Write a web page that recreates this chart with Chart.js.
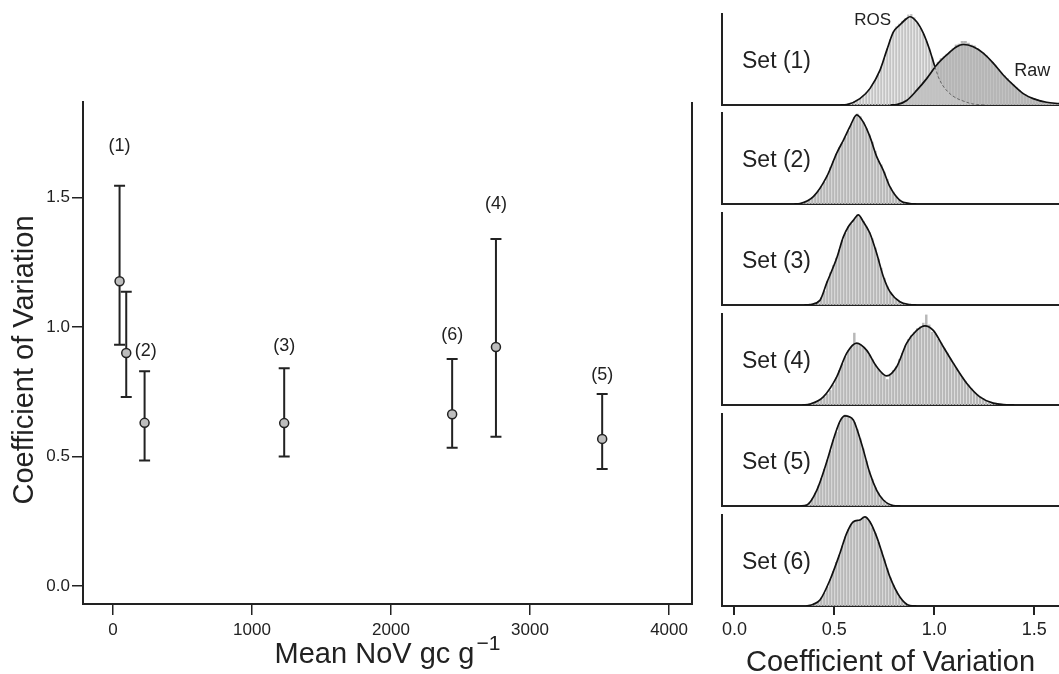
<!DOCTYPE html>
<html><head><meta charset="utf-8">
<script src="https://cdn.jsdelivr.net/npm/chart.js@4.4.1/dist/chart.umd.min.js"></script>
<style>
html,body{margin:0;padding:0;background:#fff;}
body{width:1059px;height:674px;position:relative;overflow:hidden;}
canvas{position:absolute;}
</style></head><body>
<script>
// ---------------- DATA ----------------
// Left panel: mean NoV vs coefficient of variation with 95% intervals
const meanNoV   = [48, 96, 228, 1232, 2440, 2755, 3519];
const cvPoint   = [1.177, 0.900, 0.630, 0.629, 0.663, 0.923, 0.568];
const cvLow     = [0.932, 0.730, 0.485, 0.500, 0.534, 0.576, 0.452];
const cvHigh    = [1.546, 1.137, 0.829, 0.841, 0.877, 1.341, 0.742];
const setTags   = ['(1)', '(2)', '(3)', '(6)', '(4)', '(5)'];
const tagNoV    = [48, 236, 1232, 2440, 2755, 3519];
const tagCV     = [1.699, 0.906, 0.925, 0.968, 1.476, 0.816];
const xTickVals = [0, 1000, 2000, 3000, 4000];
const yTickVals = [0.0, 0.5, 1.0, 1.5];

// Right panels: histograms (bin width 0.015) and density curves
const binWidth = 0.015;
const set1RosStart = 0.555;
const set1RosHist = [0,1,2,4,5,7,10,14,17,22,27,33,42,51,62,72,80,86,89,92,95,99,100,96,90,84,78,70,62,52,40,30,24,19,15,12,9,7,5,4,3,2,1,1,0];
const set1RawStart = 0.81;
const set1RawHist = [0,1,3,5,6,10,13,17,20,25,28,33,38,42,47,51,53,56,58,62,66,67,70,70,68,66,65,62,59,57,54,50,47,43,39,35,32,29,25,22,19,16,13,11,9,8,7,6,5,4,3,3,2,2,1];
const set2Start = 0.33;
const set2Hist = [0,1,3,4,7,10,14,19,24,31,40,47,55,62,67,73,80,88,95,99,96,90,83,76,68,58,47,43,35,27,18,13,8,5,3,1,0];
const set3Start = 0.375;
const set3Hist = [0,1,2,4,8,15,26,35,43,51,60,70,78,85,88,93,98,95,91,85,79,72,62,50,40,29,20,14,9,6,4,2,1,0];
const set4Start = 0.375;
const set4Hist = [1,2,3,5,6,9,12,16,22,30,38,45,53,60,64,79,67,66,63,60,55,50,44,39,35,32,28,34,38,42,50,57,65,72,76,80,84,86,90,99,88,80,78,72,68,62,57,51,46,40,35,30,26,22,18,14,11,9,7,5,3,2,2,1,1,0,0];
const set5Start = 0.36;
const set5Hist = [1,4,8,14,22,30,40,50,60,72,80,90,96,99,97,95,91,83,73,62,49,38,29,20,14,9,6,3,1,0];
const set6Start = 0.39;
const set6Hist = [1,3,5,9,14,21,29,38,48,56,66,76,84,90,93,94,95,98,97,93,86,80,70,61,51,41,31,23,16,10,6,3,1,0];

const set1RosCurveX = [0.53,0.562,0.628,0.678,0.728,0.762,0.795,0.828,0.862,0.878,0.912,0.945,0.978,1.003,1.028,1.078,1.162,1.212,1.26];
const set1RosCurveY = [0,0.5,7,18,38,60,80,88,95,97,91.5,79,60,42,27,12.5,3,0.5,0];
const set1RawCurveX = [0.78,0.812,0.862,0.912,0.962,1.012,1.062,1.112,1.145,1.195,1.245,1.295,1.345,1.395,1.445,1.495,1.562,1.624];
const set1RawCurveY = [0,0.5,5,16,29,44,55,64,66.5,64,57,46,33,22,12.5,7,3,1.5];
const set2CurveX = [0.30,0.328,0.395,0.462,0.512,0.545,0.578,0.612,0.645,0.678,0.712,0.745,0.778,0.828,0.878,0.91];
const set2CurveY = [0,0.5,8,30,56,70,85,98,90,74,52,37,19,4,0.5,0];
const set3CurveX = [0.35,0.378,0.428,0.462,0.512,0.545,0.570,0.595,0.620,0.645,0.678,0.712,0.745,0.778,0.828,0.878,0.91];
const set3CurveY = [0,0.5,5,24,51,74,85,92,98,90.5,78,56,31,14.5,3.6,0.5,0];
const set4CurveX = [0.34,0.378,0.445,0.512,0.562,0.612,0.662,0.712,0.762,0.812,0.862,0.912,0.953,0.995,1.045,1.095,1.162,1.228,1.295,1.362,1.40];
const set4CurveY = [0,1,9,31,57,68,60,42,32,42,68,82,87,82,64,46,24,9,2,0.3,0];
const set5CurveX = [0.33,0.362,0.412,0.462,0.495,0.528,0.553,0.595,0.620,0.645,0.678,0.712,0.745,0.795,0.83];
const set5CurveY = [0,1,17,48,72,92,98,93.5,79,61,35.5,17,6.5,0.5,0];
const set6CurveX = [0.36,0.395,0.428,0.478,0.528,0.562,0.595,0.628,0.653,0.678,0.712,0.745,0.778,0.828,0.878,0.91];
const set6CurveY = [0,2,6.5,28.5,58,80,92.6,94.5,98,92.6,76,54,32,10,0.5,0];

const panelLabels = ['Set (1)', 'Set (2)', 'Set (3)', 'Set (4)', 'Set (5)', 'Set (6)'];
const cvTickVals = [0.0, 0.5, 1.0, 1.5];
const rosLabel = {text: 'ROS', x: 0.60, y: 93};
const rawLabel = {text: 'Raw', x: 1.40, y: 37};

// ---------------- STYLE / LAYOUT ----------------
const FONT = '"Liberation Sans", Arial, Helvetica, sans-serif';
const INK = '#222';
const panelTop  = [14, 113, 213, 314, 414, 515];
const panelBase = [105, 204, 305, 405, 506, 606];

function mkCanvas(left, top, w, h) {
  const c = document.createElement('canvas');
  c.width = w; c.height = h;
  c.style.left = left + 'px'; c.style.top = top + 'px';
  c.style.width = w + 'px'; c.style.height = h + 'px';
  document.body.appendChild(c);
  return c;
}

// ---------------- LEFT CHART ----------------
const errorBarPlugin = {
  id: 'errorBars',
  beforeDatasetsDraw(chart) {
    const {ctx, scales: {x, y}} = chart;
    ctx.save();
    ctx.strokeStyle = INK; ctx.lineWidth = 2;
    for (let i = 0; i < meanNoV.length; i++) {
      const px = x.getPixelForValue(meanNoV[i]);
      const yl = y.getPixelForValue(cvLow[i]);
      const yh = y.getPixelForValue(cvHigh[i]);
      ctx.beginPath();
      ctx.moveTo(px, yl); ctx.lineTo(px, yh);
      ctx.moveTo(px - 5.5, yl); ctx.lineTo(px + 5.5, yl);
      ctx.moveTo(px - 5.5, yh); ctx.lineTo(px + 5.5, yh);
      ctx.stroke();
    }
    ctx.restore();
  },
  afterDraw(chart) {
    const {ctx, chartArea, scales: {x, y}} = chart;
    ctx.save();
    ctx.strokeStyle = INK; ctx.lineWidth = 2;
    ctx.beginPath();
    ctx.moveTo(chartArea.right, chartArea.top);
    ctx.lineTo(chartArea.right, chartArea.bottom + 1);
    ctx.stroke();
    ctx.fillStyle = INK;
    ctx.font = '18px ' + FONT;
    ctx.textAlign = 'center'; ctx.textBaseline = 'middle';
    for (let i = 0; i < setTags.length; i++) {
      ctx.fillText(setTags[i], x.getPixelForValue(tagNoV[i]), y.getPixelForValue(tagCV[i]));
    }
    ctx.save();
    ctx.translate(25, 360);
    ctx.rotate(-Math.PI / 2);
    ctx.font = '29px ' + FONT;
    ctx.fillText('Coefficient of Variation', 0, 0);
    ctx.restore();
    const main = 'Mean NoV gc g', sup = '\u22121';
    ctx.font = '29px ' + FONT;
    const wMain = ctx.measureText(main).width;
    ctx.font = '21px ' + FONT;
    const wSup = ctx.measureText(sup).width;
    const cx = (chartArea.left + chartArea.right) / 2;
    const start = cx - (wMain + 2 + wSup) / 2;
    ctx.textAlign = 'left'; ctx.textBaseline = 'alphabetic';
    ctx.font = '29px ' + FONT;
    ctx.fillText(main, start, 663);
    ctx.font = '21px ' + FONT;
    ctx.fillText(sup, start + wMain + 2, 650);
    ctx.restore();
  }
};

const leftCanvas = mkCanvas(0, 0, 700, 674);
new Chart(leftCanvas, {
  type: 'scatter',
  data: {
    datasets: [{
      data: meanNoV.map((v, i) => ({x: v, y: cvPoint[i]})),
      pointRadius: 4.5, pointHoverRadius: 4.5,
      backgroundColor: '#bdbdbd', borderColor: INK, borderWidth: 1.5
    }]
  },
  options: {
    responsive: false, animation: false, events: [],
    layout: {padding: {top: 102, right: 8, left: 0, bottom: 0}},
    plugins: {legend: {display: false}, tooltip: {enabled: false}},
    scales: {
      x: {
        type: 'linear', min: -215, max: 4165,
        afterBuildTicks: s => { s.ticks = xTickVals.map(v => ({value: v})); },
        afterFit: s => { s.height = 70; },
        grid: {display: true, drawOnChartArea: false, drawTicks: true, tickLength: 11, color: INK, lineWidth: 1.5},
        border: {display: true, color: INK, width: 2},
        ticks: {color: INK, font: {family: FONT, size: 17}, padding: 5, maxRotation: 0, callback: v => String(v)}
      },
      y: {
        type: 'linear', min: -0.07, max: 1.87,
        afterBuildTicks: s => { s.ticks = yTickVals.map(v => ({value: v})); },
        afterFit: s => { s.width = 83; },
        grid: {display: true, drawOnChartArea: false, drawTicks: true, tickLength: 11, color: INK, lineWidth: 1.5},
        border: {display: true, color: INK, width: 2},
        ticks: {color: INK, font: {family: FONT, size: 17}, padding: 2, callback: v => Number(v).toFixed(1)}
      }
    }
  },
  plugins: [errorBarPlugin]
});

// ---------------- RIGHT PANELS ----------------
function histData(start, hist) {
  return hist.map((h, i) => ({x: +(start + i * binWidth).toFixed(3), y: h}));
}
function curveData(xs, ys) { return xs.map((v, i) => ({x: v, y: ys[i]})); }
function barDs(start, hist, color, thick) {
  return {type: 'bar', data: histData(start, hist), backgroundColor: color, borderWidth: 0,
          barThickness: thick || 1.8, grouped: false, order: 2};
}
function lineDs(xs, ys, extra) {
  return Object.assign({type: 'line', data: curveData(xs, ys), borderColor: '#111', borderWidth: 1.7,
          pointRadius: 0, fill: false, cubicInterpolationMode: 'monotone', order: 0}, extra || {});
}

const panelDatasets = [
  [barDs(set1RosStart, set1RosHist, '#c4c4c4', 1.6), barDs(set1RawStart, set1RawHist, '#b6b6b6', 2.4),
   lineDs(set1RosCurveX, set1RosCurveY, {segment: {
      borderDash: c => c.p0.parsed.x >= 1.0 ? [3, 2] : undefined,
      borderColor: c => c.p0.parsed.x >= 1.0 ? '#666' : '#111',
      borderWidth: c => c.p0.parsed.x >= 1.0 ? 1 : 1.7}}),
   lineDs(set1RawCurveX, set1RawCurveY)],
  [barDs(set2Start, set2Hist, '#b8b8b8'), lineDs(set2CurveX, set2CurveY)],
  [barDs(set3Start, set3Hist, '#b8b8b8'), lineDs(set3CurveX, set3CurveY)],
  [barDs(set4Start, set4Hist, '#b8b8b8'), lineDs(set4CurveX, set4CurveY)],
  [barDs(set5Start, set5Hist, '#b8b8b8'), lineDs(set5CurveX, set5CurveY)],
  [barDs(set6Start, set6Hist, '#b8b8b8'), lineDs(set6CurveX, set6CurveY)]
];

for (let i = 0; i < 6; i++) {
  const last = i === 5;
  const cTop = panelTop[i] - 1;
  const cH = last ? 674 - cTop : panelBase[i] - panelTop[i] + 3;
  const cv = mkCanvas(700, cTop, 359, cH);
  const labelPlugin = {
    id: 'lbl' + i,
    afterDraw(chart) {
      const {ctx, chartArea, scales: {x, y}} = chart;
      ctx.save();
      ctx.fillStyle = INK;
      ctx.font = '23px ' + FONT;
      ctx.textAlign = 'left'; ctx.textBaseline = 'middle';
      ctx.fillText(panelLabels[i], chartArea.left + 20, chartArea.bottom - 43);
      if (i === 0) {
        ctx.font = '17px ' + FONT;
        ctx.fillText(rosLabel.text, x.getPixelForValue(rosLabel.x), y.getPixelForValue(rosLabel.y));
        ctx.font = '18px ' + FONT;
        ctx.fillText(rawLabel.text, x.getPixelForValue(rawLabel.x), y.getPixelForValue(rawLabel.y));
      }
      ctx.restore();
    }
  };
  new Chart(cv, {
    type: 'bar',
    data: {datasets: panelDatasets[i]},
    options: {
      responsive: false, animation: false, events: [],
      layout: {padding: {top: 1, bottom: last ? 0 : 2, left: 0, right: 0}},
      plugins: {legend: {display: false}, tooltip: {enabled: false}},
      scales: {
        x: {
          type: 'linear', min: -0.062, max: 1.624, offset: false,
          afterBuildTicks: s => { s.ticks = cvTickVals.map(v => ({value: v})); },
          afterFit: s => { s.height = last ? 68 : 0; },
          grid: {display: last, offset: false, drawOnChartArea: false, drawTicks: true, tickLength: 9, color: INK, lineWidth: 2},
          border: {display: true, color: INK, width: 2},
          ticks: {display: last, color: INK, font: {family: FONT, size: 18}, padding: 4, maxRotation: 0,
                  callback: v => Number(v).toFixed(1)},
          title: {display: last, text: 'Coefficient of Variation', color: INK,
                  font: {family: FONT, size: 29, lineHeight: 0.76}, padding: 0}
        },
        y: {
          type: 'linear', min: 0, max: 100,
          afterFit: s => { s.width = 22; },
          grid: {display: false},
          border: {display: true, color: INK, width: 2},
          ticks: {display: false}
        }
      }
    },
    plugins: [labelPlugin]
  });
}
</script>
</body></html>
